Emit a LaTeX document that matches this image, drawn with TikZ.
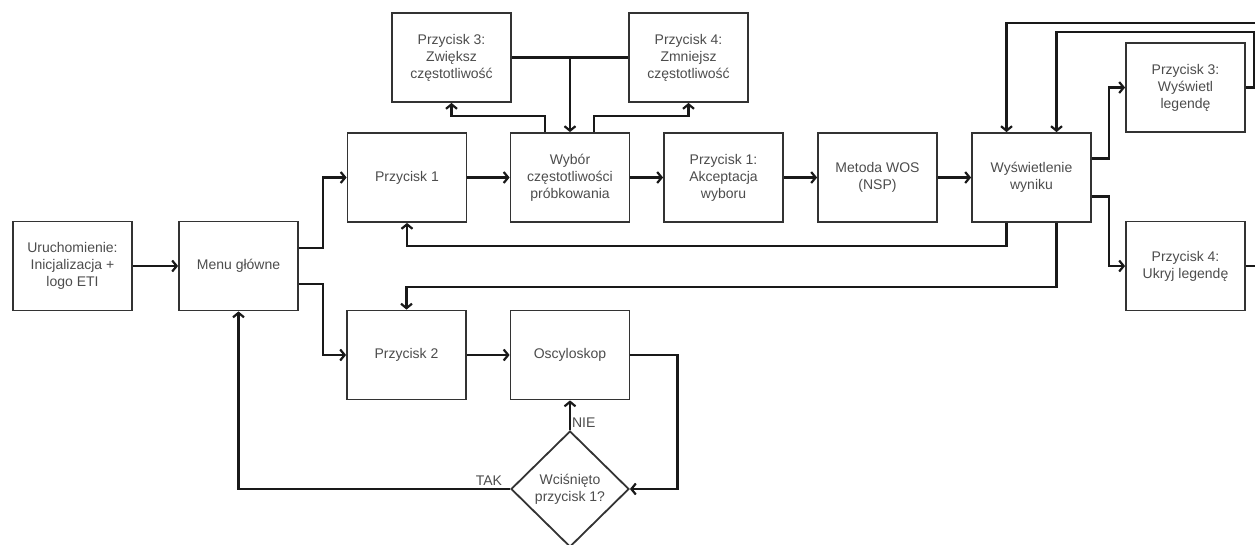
\documentclass[tikz,border=0pt]{standalone}
\usepackage{fontspec}
\setmainfont{Liberation Sans}
\usepackage{tikz}
\usetikzlibrary{arrows.meta,positioning,shapes.geometric}
\tikzset{
  block/.style={draw=black!80,line width=1.8pt,minimum width=119pt,minimum height=89pt,
    inner sep=2pt,align=center},
  decision/.style={draw=black!80,line width=1.8pt,diamond,minimum width=118pt,
    minimum height=116pt,inner sep=0pt,align=center},
  conn/.style={line width=2.2pt,black!90},
  every node/.style={font=\fontsize{14}{17}\selectfont,text=black!70}
}
\tikzstyle{arrow} = [conn,-{Straight Barb[length=4.5pt,width=11pt]}]

\begin{document}
\begin{tikzpicture}[x=1pt,y=-1pt]
  \useasboundingbox (0,0) rectangle (1255,544);
  % blocks
  \node[block] (init)   at (72.5,266)   {Uruchomienie:\\Inicjalizacja +\\logo ETI};
  \node[block] (menu)   at (238.5,266)  {Menu główne};
  \node[block] (p1)     at (407,177.5)  {Przycisk 1};
  \node[block] (wybor)  at (570,177.5)  {Wybór\\częstotliwości\\próbkowania};
  \node[block] (p3z)    at (451.5,57.5) {Przycisk 3:\\Zwiększ\\częstotliwość};
  \node[block] (p4z)    at (688.5,57.5) {Przycisk 4:\\Zmniejsz\\częstotliwość};
  \node[block] (akcept) at (723.5,177.5) {Przycisk 1:\\Akceptacja\\wyboru};
  \node[block] (wos)    at (877.5,177.5) {Metoda WOS\\(NSP)};
  \node[block] (wynik)  at (1031.5,177.5) {Wyświetlenie\\wyniku};
  \node[block] (p3l)    at (1185.5,87.5) {Przycisk 3:\\Wyświetl\\legendę};
  \node[block] (p4l)    at (1185.5,266) {Przycisk 4:\\Ukryj legendę};
  \node[block] (p2)     at (406.5,355)  {Przycisk 2};
  \node[block] (osc)    at (570,355)    {Oscyloskop};
  \node[decision] (dec) at (570,489)    {Wciśnięto\\przycisk 1?};
  % return points on the right edge
  \coordinate (back3) at (1254,32);
  \coordinate (back4) at (1262,23);
  % main path
  \draw[arrow] (init) -- (menu);
  \draw[arrow] ([yshift=18pt]menu.east) -- ++(24pt,0) |- (p1.west);
  \draw[arrow] ([yshift=-18pt]menu.east) -- ++(24pt,0) |- (p2.west);
  \draw[arrow] (p1) -- (wybor);
  \draw[arrow] (wybor) -- (akcept);
  \draw[arrow] (akcept) -- (wos);
  \draw[arrow] (wos) -- (wynik);
  % frequency buttons
  \draw[arrow] ([xshift=-25pt]wybor.north) -- ++(0,16pt) -| (p3z.south);
  \draw[arrow] ([xshift=24pt]wybor.north) -- ++(0,16pt) -| (p4z.south);
  \draw[conn] (p3z) -- (p4z);
  \draw[arrow] (p3z.east -| wybor.north) -- (wybor.north);
  % legend buttons
  \draw[arrow] ([yshift=19pt]wynik.east) -- ++(17pt,0) |- (p3l.west);
  \draw[arrow] ([yshift=-19pt]wynik.east) -- ++(17pt,0) |- (p4l.west);
  \draw[arrow] (p3l.east) -| (back3) -| ([xshift=25pt]wynik.north);
  \draw[arrow] (p4l.east) -| (back4) -| ([xshift=-25pt]wynik.north);
  % back to the buttons
  \draw[arrow] ([xshift=-25pt]wynik.south) -- ++(0,-23pt) -| (p1.south);
  \draw[arrow] ([xshift=25pt]wynik.south) -- ++(0,-64pt) -| (p2.north);
  % oscilloscope loop
  \draw[arrow] (p2) -- (osc);
  \draw[arrow] (osc.east) -- ++(47pt,0) |- (dec.east);
  \draw[arrow] (dec.north) -- node[pos=0,anchor=south west,inner sep=1pt,yshift=1pt] {NIE} (osc.south);
  \draw[arrow] (dec.west) -| node[pos=0,anchor=south east,inner sep=2pt,xshift=-5pt] {TAK} (menu.south);
\end{tikzpicture}
\end{document}
